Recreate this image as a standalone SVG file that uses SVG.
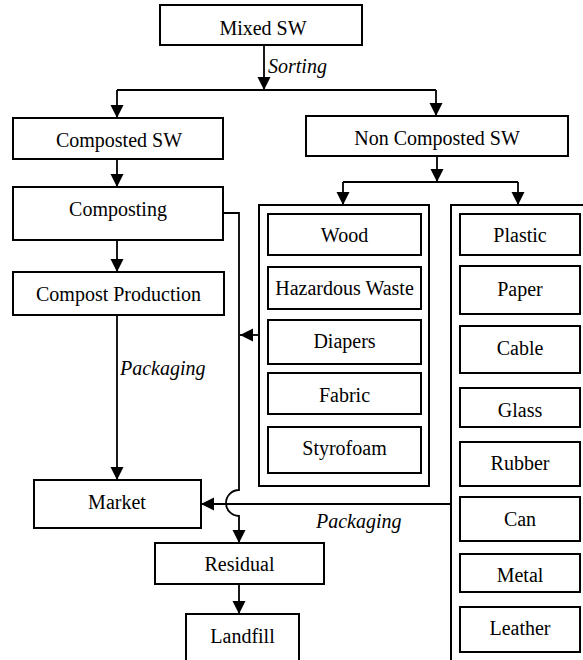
<svg xmlns="http://www.w3.org/2000/svg" width="583" height="660" viewBox="0 0 583 660" font-family="'Liberation Serif', 'Times New Roman', 'DejaVu Serif', serif">
<style>
.box{fill:#fff;stroke:#000;stroke-width:2}
.cont{fill:none;stroke:#000;stroke-width:2}
text{font-family:'Liberation Serif','Times New Roman','DejaVu Serif',serif;font-size:20px;fill:#000}
.t{text-anchor:middle}
.lbl{font-style:italic}
.c{fill:none;stroke:#000;stroke-width:1.8}
</style>
<defs>
<marker id="ah" markerUnits="userSpaceOnUse" markerWidth="14" markerHeight="14" refX="13" refY="6.5" orient="auto">
<path d="M0,0 L13,6.5 L0,13 z" fill="#000"/>
</marker>
</defs>
<rect width="583" height="660" fill="#fff"/>

<g id="connectors">
<path class="c" d="M264,45 V90" marker-end="url(#ah)"/>
<path class="c" d="M117,90 H436"/>
<path class="c" d="M117,90 V118" marker-end="url(#ah)"/>
<path class="c" d="M436,90 V116" marker-end="url(#ah)"/>
<path class="c" d="M117,159 V187" marker-end="url(#ah)"/>
<path class="c" d="M437,156 V182" marker-end="url(#ah)"/>
<path class="c" d="M343,182 H518"/>
<path class="c" d="M343,182 V205" marker-end="url(#ah)"/>
<path class="c" d="M518,182 V205" marker-end="url(#ah)"/>
<path class="c" d="M117,240 V272" marker-end="url(#ah)"/>
<path class="c" d="M223,213 H239 V490 A13,13 0 0 0 239,516 V543" marker-end="url(#ah)"/>
<path class="c" d="M259,335 H240" marker-end="url(#ah)"/>
<path class="c" d="M117,315 V480" marker-end="url(#ah)"/>
<path class="c" d="M451,504 H201" marker-end="url(#ah)"/>
<path class="c" d="M239,584 V614" marker-end="url(#ah)"/>
<text class="lbl" x="268" y="73">Sorting</text>
<text class="lbl" x="120" y="375">Packaging</text>
<text class="lbl" x="316" y="528">Packaging</text>
</g>

<g id="mixed-sw"><rect class="box" x="160" y="5" width="202" height="40"/><text class="t" x="263" y="35">Mixed SW</text></g>
<g id="composted-sw"><rect class="box" x="13" y="118" width="210" height="41"/><text class="t" x="119" y="147">Composted SW</text></g>
<g id="non-composted-sw"><rect class="box" x="306" y="116" width="262" height="40"/><text class="t" x="437" y="145">Non Composted SW</text></g>
<g id="composting"><rect class="box" x="13" y="187" width="210" height="53"/><text class="t" x="118" y="216">Composting</text></g>
<g id="compost-production"><rect class="box" x="13" y="272" width="211" height="43"/><text class="t" x="118.5" y="301">Compost Production</text></g>
<g id="market"><rect class="box" x="34" y="480" width="167" height="48"/><text class="t" x="117" y="509">Market</text></g>
<g id="residual"><rect class="box" x="155" y="543" width="169" height="41"/><text class="t" x="239.5" y="571">Residual</text></g>
<g id="landfill"><rect class="box" x="186" y="614" width="113" height="50"/><text class="t" x="242.5" y="643">Landfill</text></g>

<g id="group-left">
<rect class="cont" x="259" y="205" width="170" height="281"/>
<g id="wood"><rect class="box" x="268" y="214" width="153" height="41"/><text class="t" x="344.5" y="242">Wood</text></g>
<g id="hazardous-waste"><rect class="box" x="268" y="267" width="153" height="42"/><text class="t" x="344.5" y="295">Hazardous Waste</text></g>
<g id="diapers"><rect class="box" x="268" y="320" width="153" height="44"/><text class="t" x="344.5" y="348">Diapers</text></g>
<g id="fabric"><rect class="box" x="268" y="373" width="153" height="41"/><text class="t" x="344.5" y="402">Fabric</text></g>
<g id="styrofoam"><rect class="box" x="268" y="427" width="153" height="46"/><text class="t" x="344.5" y="455">Styrofoam</text></g>
</g>

<g id="group-right">
<rect class="cont" x="451" y="205" width="140" height="470"/>
<g id="plastic"><rect class="box" x="460" y="214" width="120" height="41"/><text class="t" x="520" y="242">Plastic</text></g>
<g id="paper"><rect class="box" x="460" y="266" width="120" height="48"/><text class="t" x="520" y="296">Paper</text></g>
<g id="cable"><rect class="box" x="460" y="326" width="120" height="47"/><text class="t" x="520" y="355">Cable</text></g>
<g id="glass"><rect class="box" x="460" y="388" width="120" height="39"/><text class="t" x="520" y="417">Glass</text></g>
<g id="rubber"><rect class="box" x="460" y="442" width="120" height="44"/><text class="t" x="520" y="470">Rubber</text></g>
<g id="can"><rect class="box" x="460" y="497" width="120" height="44"/><text class="t" x="520" y="526">Can</text></g>
<g id="metal"><rect class="box" x="460" y="554" width="120" height="38"/><text class="t" x="520" y="582">Metal</text></g>
<g id="leather"><rect class="box" x="460" y="607" width="120" height="45"/><text class="t" x="520" y="635">Leather</text></g>
</g>
</svg>
